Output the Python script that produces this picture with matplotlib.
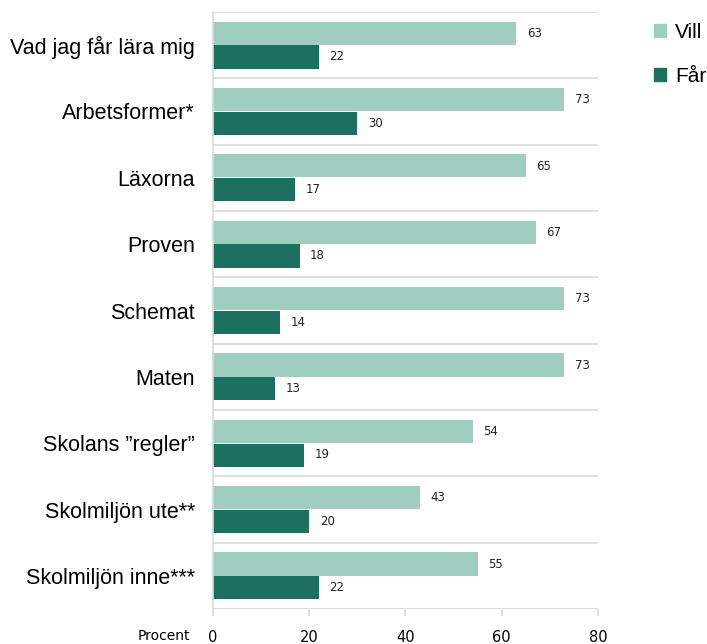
import numpy as np
import matplotlib.pyplot as plt
from matplotlib.patches import Patch

# Data
kategorier = ["Vad jag får lära mig", "Arbetsformer*", "Läxorna", "Proven", "Schemat",
              "Maten", "Skolans \u201dregler\u201d", "Skolmiljön ute**", "Skolmiljön inne***"]
vill = [63, 73, 65, 67, 73, 73, 54, 43, 55]
far = [22, 30, 17, 18, 14, 13, 19, 20, 22]
xticks = [0, 20, 40, 60, 80]

ljus = "#9fcdc0"
mork = "#1b7060"
grid = "#d9d9d9"

fig = plt.figure(figsize=(7.07, 6.44), dpi=100)
ax = fig.add_axes([0.301, 0.0543, 0.545, 0.9271])

n = len(kategorier)
y = np.arange(n)
h = 0.35
ax.barh(y - h / 2 - 0.005, vill, height=h, color=ljus)
ax.barh(y + h / 2 + 0.005, far, height=h, color=mork)

for i in range(n):
    ax.text(vill[i] + 2.2, y[i] - h / 2, str(vill[i]), va="center", ha="left",
            fontsize=8.5, family="DejaVu Sans", color="#222222")
    ax.text(far[i] + 2.2, y[i] + h / 2, str(far[i]), va="center", ha="left",
            fontsize=8.5, family="DejaVu Sans", color="#222222")

# linjer mellan grupperna
for b in np.arange(-0.5, n, 1.0):
    ax.axhline(b, color=grid, lw=1.2, zorder=0)

ax.set_ylim(n - 0.5, -0.5)
ax.set_xlim(0, 80)
ax.set_yticks(y)
ax.set_yticklabels(kategorier, family="Liberation Sans", fontsize=15.5)
ax.tick_params(axis="y", length=0, pad=13)
ax.set_xticks(xticks)
ax.set_xticklabels([str(t) for t in xticks], family="DejaVu Sans", fontsize=10.5)
ax.tick_params(axis="x", length=5, color=grid, width=1.2, pad=10)

for s in ["top", "right", "bottom"]:
    ax.spines[s].set_visible(False)
ax.spines["left"].set_color(grid)
ax.spines["left"].set_linewidth(1.2)

ax.text(-0.06, -0.046, "Procent", transform=ax.transAxes, ha="right", va="center",
        fontsize=10, family="DejaVu Sans")

handles = [Patch(color=ljus, label="Vill"), Patch(color=mork, label="Får")]
fig.legend(handles=handles, loc="upper left", bbox_to_anchor=(0.925, 0.965),
           frameon=False, prop={"family": "Liberation Sans", "size": 15},
           handlelength=0.6, handleheight=0.6, handletextpad=0.4, labelspacing=1.2,
           borderaxespad=0, borderpad=0)

fig.savefig("out.png", dpi=100)
